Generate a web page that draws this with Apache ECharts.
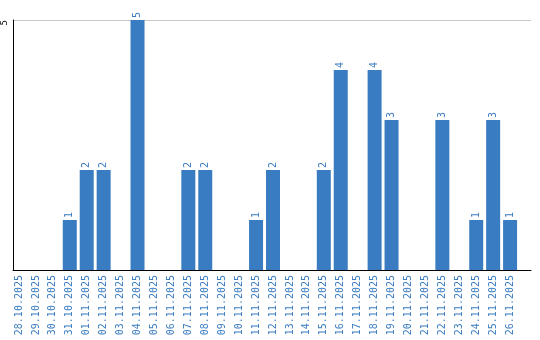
<!DOCTYPE html>
<html><head><meta charset="utf-8">
<script src="https://cdn.jsdelivr.net/npm/echarts@6/dist/echarts.min.js"></script>
<style>html,body{margin:0;padding:0;background:#fff}#c{width:540px;height:340px}</style>
</head><body><div id="c"></div>
<script>
const categories = ["28.10.2025","29.10.2025","30.10.2025","31.10.2025","01.11.2025","02.11.2025","03.11.2025","04.11.2025","05.11.2025","06.11.2025","07.11.2025","08.11.2025","09.11.2025","10.11.2025","11.11.2025","12.11.2025","13.11.2025","14.11.2025","15.11.2025","16.11.2025","17.11.2025","18.11.2025","19.11.2025","20.11.2025","21.11.2025","22.11.2025","23.11.2025","24.11.2025","25.11.2025","26.11.2025"];
const values = [0,0,0,1,2,2,0,5,0,0,2,2,0,0,1,2,0,0,2,4,0,4,3,0,0,3,0,1,3,1];
const yTicks = [5];

const blue = '#3a7cc1';
const idx = categories.map((_, i) => i);
const chart = echarts.init(document.getElementById('c'), null, {renderer: 'canvas'});
chart.setOption({
  animation: false,
  grid: {left: 11, right: 9, top: 20, bottom: 70, containLabel: false},
  xAxis: {
    type: 'value', min: -0.353, max: 30.235,
    axisLine: {show: true, onZero: false, lineStyle: {color: '#000', width: 1}},
    axisTick: {show: false},
    splitLine: {show: false},
    axisLabel: {
      customValues: idx, rotate: 90, color: blue, fontSize: 10,
      fontFamily: 'DejaVu Sans Mono', margin: 5,
      formatter: v => categories[Math.round(v)] || ''
    }
  },
  yAxis: {
    type: 'value', min: 0, max: 5, interval: 5,
    axisLine: {show: true, onZero: false, lineStyle: {color: '#000', width: 1}},
    axisTick: {show: false},
    splitLine: {show: true, lineStyle: {color: '#c8c8c8', width: 1}},
    axisLabel: {
      rotate: 90, align: 'right', verticalAlign: 'bottom',
      color: '#000', fontSize: 9, fontFamily: 'DejaVu Sans Mono', margin: 4,
      formatter: v => yTicks.includes(v) ? String(v) : ''
    }
  },
  series: [{
    type: 'bar', barWidth: 14,
    itemStyle: {color: blue},
    data: values.map((v, i) => [i, v]),
    label: {
      show: true, position: 'top', rotate: 90, align: 'left', verticalAlign: 'middle',
      distance: 2, color: blue, fontSize: 10, fontFamily: 'DejaVu Sans Mono',
      formatter: p => p.value[1] > 0 ? String(p.value[1]) : ''
    }
  }]
});
</script></body></html>
